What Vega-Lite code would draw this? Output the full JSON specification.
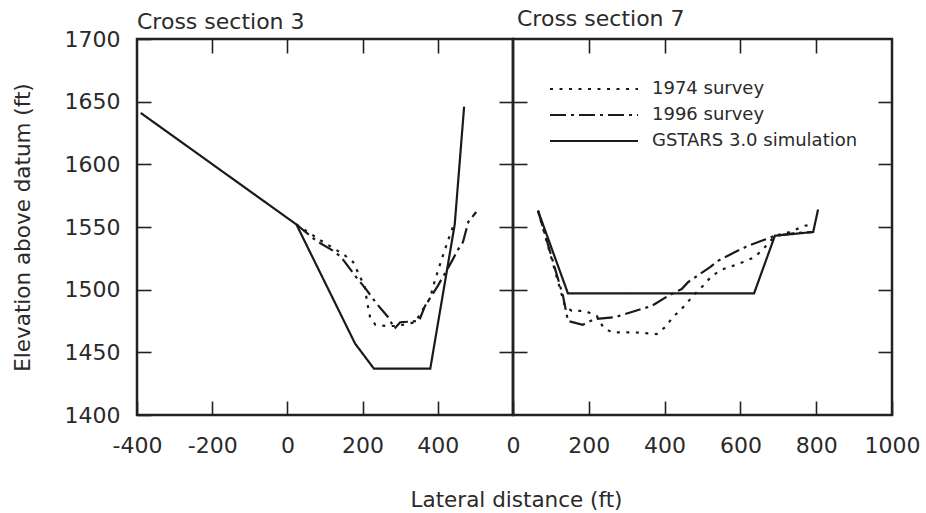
{
  "$schema": "https://vega.github.io/schema/vega-lite/v6.json",
  "padding": {"left": 10, "top": 6, "right": 5, "bottom": 5},
  "background": "white",
  "bounds": "flush",
  "spacing": 0,
  "config": {
    "view": {"stroke": "#222222", "strokeWidth": 2.5},
    "font": "DejaVu Sans",
    "axis": {
      "labelFont": "DejaVu Sans", "labelFontSize": 22, "labelColor": "#2a2a2a",
      "tickColor": "#222222", "tickWidth": 1.6, "tickSize": -14,
      "domain": false, "grid": false, "labelExpr": "toString(datum.value)",
      "labelFlush": false, "labelOverlap": false,
      "titleFont": "DejaVu Sans", "titleFontSize": 21.5, "titleFontWeight": "normal", "titleColor": "#2a2a2a"
    },
    "title": {"font": "DejaVu Sans", "fontSize": 22, "fontWeight": "normal", "color": "#2a2a2a", "anchor": "start", "frame": "group"}
  },
  "datasets": {
    "s3": [
      {"series": "GSTARS 3.0 simulation", "x": -390, "y": 1641},
      {"series": "GSTARS 3.0 simulation", "x": 24, "y": 1552},
      {"series": "GSTARS 3.0 simulation", "x": 180, "y": 1457},
      {"series": "GSTARS 3.0 simulation", "x": 230, "y": 1437},
      {"series": "GSTARS 3.0 simulation", "x": 380, "y": 1437},
      {"series": "GSTARS 3.0 simulation", "x": 445, "y": 1552},
      {"series": "GSTARS 3.0 simulation", "x": 470, "y": 1646},
      {"series": "1974 survey", "x": 24, "y": 1552},
      {"series": "1974 survey", "x": 90, "y": 1539},
      {"series": "1974 survey", "x": 150, "y": 1528},
      {"series": "1974 survey", "x": 175, "y": 1522},
      {"series": "1974 survey", "x": 206, "y": 1502},
      {"series": "1974 survey", "x": 212, "y": 1490},
      {"series": "1974 survey", "x": 220, "y": 1478},
      {"series": "1974 survey", "x": 234, "y": 1472},
      {"series": "1974 survey", "x": 262, "y": 1471},
      {"series": "1974 survey", "x": 290, "y": 1471},
      {"series": "1974 survey", "x": 340, "y": 1474},
      {"series": "1974 survey", "x": 366, "y": 1487},
      {"series": "1974 survey", "x": 379, "y": 1493},
      {"series": "1974 survey", "x": 392, "y": 1507},
      {"series": "1974 survey", "x": 410, "y": 1524},
      {"series": "1974 survey", "x": 428, "y": 1540},
      {"series": "1974 survey", "x": 440, "y": 1550},
      {"series": "1996 survey", "x": 24, "y": 1552},
      {"series": "1996 survey", "x": 77, "y": 1539},
      {"series": "1996 survey", "x": 122, "y": 1531},
      {"series": "1996 survey", "x": 143, "y": 1526},
      {"series": "1996 survey", "x": 183, "y": 1510},
      {"series": "1996 survey", "x": 210, "y": 1500},
      {"series": "1996 survey", "x": 237, "y": 1489},
      {"series": "1996 survey", "x": 268, "y": 1478},
      {"series": "1996 survey", "x": 285, "y": 1469},
      {"series": "1996 survey", "x": 300, "y": 1474},
      {"series": "1996 survey", "x": 350, "y": 1475},
      {"series": "1996 survey", "x": 366, "y": 1487},
      {"series": "1996 survey", "x": 400, "y": 1503},
      {"series": "1996 survey", "x": 436, "y": 1522},
      {"series": "1996 survey", "x": 454, "y": 1532},
      {"series": "1996 survey", "x": 467, "y": 1538},
      {"series": "1996 survey", "x": 481, "y": 1554},
      {"series": "1996 survey", "x": 502, "y": 1562}
    ],
    "s7": [
      {"series": "GSTARS 3.0 simulation", "x": 66, "y": 1563},
      {"series": "GSTARS 3.0 simulation", "x": 145, "y": 1497},
      {"series": "GSTARS 3.0 simulation", "x": 636, "y": 1497},
      {"series": "GSTARS 3.0 simulation", "x": 691, "y": 1543},
      {"series": "GSTARS 3.0 simulation", "x": 792, "y": 1546},
      {"series": "GSTARS 3.0 simulation", "x": 805, "y": 1564},
      {"series": "1974 survey", "x": 66, "y": 1563},
      {"series": "1974 survey", "x": 137, "y": 1487},
      {"series": "1974 survey", "x": 155, "y": 1483},
      {"series": "1974 survey", "x": 190, "y": 1483},
      {"series": "1974 survey", "x": 221, "y": 1479},
      {"series": "1974 survey", "x": 238, "y": 1470},
      {"series": "1974 survey", "x": 260, "y": 1466},
      {"series": "1974 survey", "x": 317, "y": 1466},
      {"series": "1974 survey", "x": 379, "y": 1464.6},
      {"series": "1974 survey", "x": 401, "y": 1470},
      {"series": "1974 survey", "x": 422, "y": 1478},
      {"series": "1974 survey", "x": 449, "y": 1486},
      {"series": "1974 survey", "x": 475, "y": 1495},
      {"series": "1974 survey", "x": 501, "y": 1503},
      {"series": "1974 survey", "x": 525, "y": 1511},
      {"series": "1974 survey", "x": 551, "y": 1516},
      {"series": "1974 survey", "x": 580, "y": 1519},
      {"series": "1974 survey", "x": 607, "y": 1522},
      {"series": "1974 survey", "x": 638, "y": 1526},
      {"series": "1974 survey", "x": 665, "y": 1534},
      {"series": "1974 survey", "x": 691, "y": 1543},
      {"series": "1974 survey", "x": 731, "y": 1546},
      {"series": "1974 survey", "x": 770, "y": 1551},
      {"series": "1974 survey", "x": 790, "y": 1552},
      {"series": "1996 survey", "x": 66, "y": 1563},
      {"series": "1996 survey", "x": 132, "y": 1495},
      {"series": "1996 survey", "x": 145, "y": 1475},
      {"series": "1996 survey", "x": 184, "y": 1472},
      {"series": "1996 survey", "x": 216, "y": 1476.6},
      {"series": "1996 survey", "x": 269, "y": 1478},
      {"series": "1996 survey", "x": 296, "y": 1480.6},
      {"series": "1996 survey", "x": 322, "y": 1483},
      {"series": "1996 survey", "x": 366, "y": 1487},
      {"series": "1996 survey", "x": 409, "y": 1495},
      {"series": "1996 survey", "x": 445, "y": 1500.5},
      {"series": "1996 survey", "x": 462, "y": 1506},
      {"series": "1996 survey", "x": 520, "y": 1518},
      {"series": "1996 survey", "x": 541, "y": 1523},
      {"series": "1996 survey", "x": 586, "y": 1530},
      {"series": "1996 survey", "x": 620, "y": 1535},
      {"series": "1996 survey", "x": 665, "y": 1540},
      {"series": "1996 survey", "x": 691, "y": 1543},
      {"series": "1996 survey", "x": 740, "y": 1545},
      {"series": "1996 survey", "x": 792, "y": 1546}
    ]
  },
  "hconcat": [
    {
      "width": 376, "height": 376,
      "title": {"text": "Cross section 3", "dx": 0, "offset": -6},
      "data": {"name": "s3"},
      "layer": [
        {
          "mark": {"type": "line", "color": "#1a1a1a", "strokeWidth": 2.2},
          "encoding": {
            "x": {"field": "x", "type": "quantitative",
                  "scale": {"domain": [-400, 600], "nice": false, "zero": false},
                  "axis": {"orient": "bottom", "values": [-400, -200, 0, 200, 400], "labelPadding": 34,
                           "title": "Lateral distance (ft)", "titleX": 379, "titlePadding": 33}},
            "y": {"field": "y", "type": "quantitative",
                  "scale": {"domain": [1400, 1700], "nice": false, "zero": false},
                  "axis": {"orient": "left", "values": [1400, 1450, 1500, 1550, 1600, 1650, 1700], "labelPadding": 31,
                           "title": "Elevation above datum (ft)", "titlePadding": 30}},
            "strokeDash": {"field": "series", "type": "nominal",
                           "scale": {"domain": ["1974 survey", "1996 survey", "GSTARS 3.0 simulation"],
                                     "range": [[3, 6.5], [16, 5, 3, 5], [1, 0]]},
                           "legend": null}
          }
        },
        {
          "mark": {"type": "point", "opacity": 0},
          "encoding": {
            "x": {"field": "x", "type": "quantitative",
                  "scale": {"domain": [-400, 600], "nice": false, "zero": false},
                  "axis": {"orient": "top", "values": [-200, 0, 200, 400], "labels": false, "title": null}},
            "y": {"field": "y", "type": "quantitative",
                  "scale": {"domain": [1400, 1700], "nice": false, "zero": false},
                  "axis": {"orient": "right", "values": [1450, 1500, 1550, 1600, 1650], "labels": false, "title": null}}
          }
        }
      ],
      "resolve": {"axis": {"x": "independent", "y": "independent"}}
    },
    {
      "width": 379, "height": 376,
      "title": {"text": "Cross section 7", "dx": 4, "offset": 7.5},
      "data": {"name": "s7"},
      "layer": [
        {
          "mark": {"type": "line", "color": "#1a1a1a", "strokeWidth": 2.2},
          "encoding": {
            "x": {"field": "x", "type": "quantitative",
                  "scale": {"domain": [0, 1000], "nice": false, "zero": false},
                  "axis": {"orient": "bottom", "values": [0, 200, 400, 600, 800, 1000], "labelPadding": 34, "title": null}},
            "y": {"field": "y", "type": "quantitative",
                  "scale": {"domain": [1400, 1700], "nice": false, "zero": false},
                  "axis": {"orient": "left", "values": [1450, 1500, 1550, 1600, 1650], "labels": false, "title": null}},
            "strokeDash": {"field": "series", "type": "nominal",
                           "scale": {"domain": ["1974 survey", "1996 survey", "GSTARS 3.0 simulation"],
                                     "range": [[3, 6.5], [16, 5, 3, 5], [1, 0]]},
                           "legend": {"orient": "none", "legendX": 69, "legendY": 38, "title": null,
                                      "symbolType": "M-4,0L4,0", "symbolSize": 484, "symbolStrokeWidth": 2,
                                      "symbolStrokeColor": "#1a1a1a", "symbolFillColor": "transparent",
                                      "labelFont": "DejaVu Sans",
                                      "labelFontSize": 18, "labelColor": "#2a2a2a", "labelOffset": 46,
                                      "labelLimit": 400, "rowPadding": 5}}
          }
        },
        {
          "mark": {"type": "point", "opacity": 0},
          "encoding": {
            "x": {"field": "x", "type": "quantitative",
                  "scale": {"domain": [0, 1000], "nice": false, "zero": false},
                  "axis": {"orient": "top", "values": [200, 400, 600, 800], "labels": false, "title": null}},
            "y": {"field": "y", "type": "quantitative",
                  "scale": {"domain": [1400, 1700], "nice": false, "zero": false},
                  "axis": {"orient": "right", "values": [1450, 1500, 1550, 1600, 1650], "labels": false, "title": null}}
          }
        }
      ],
      "resolve": {"axis": {"x": "independent", "y": "independent"}}
    }
  ],
  "resolve": {"scale": {"x": "independent"}, "legend": {"strokeDash": "independent"}}
}
